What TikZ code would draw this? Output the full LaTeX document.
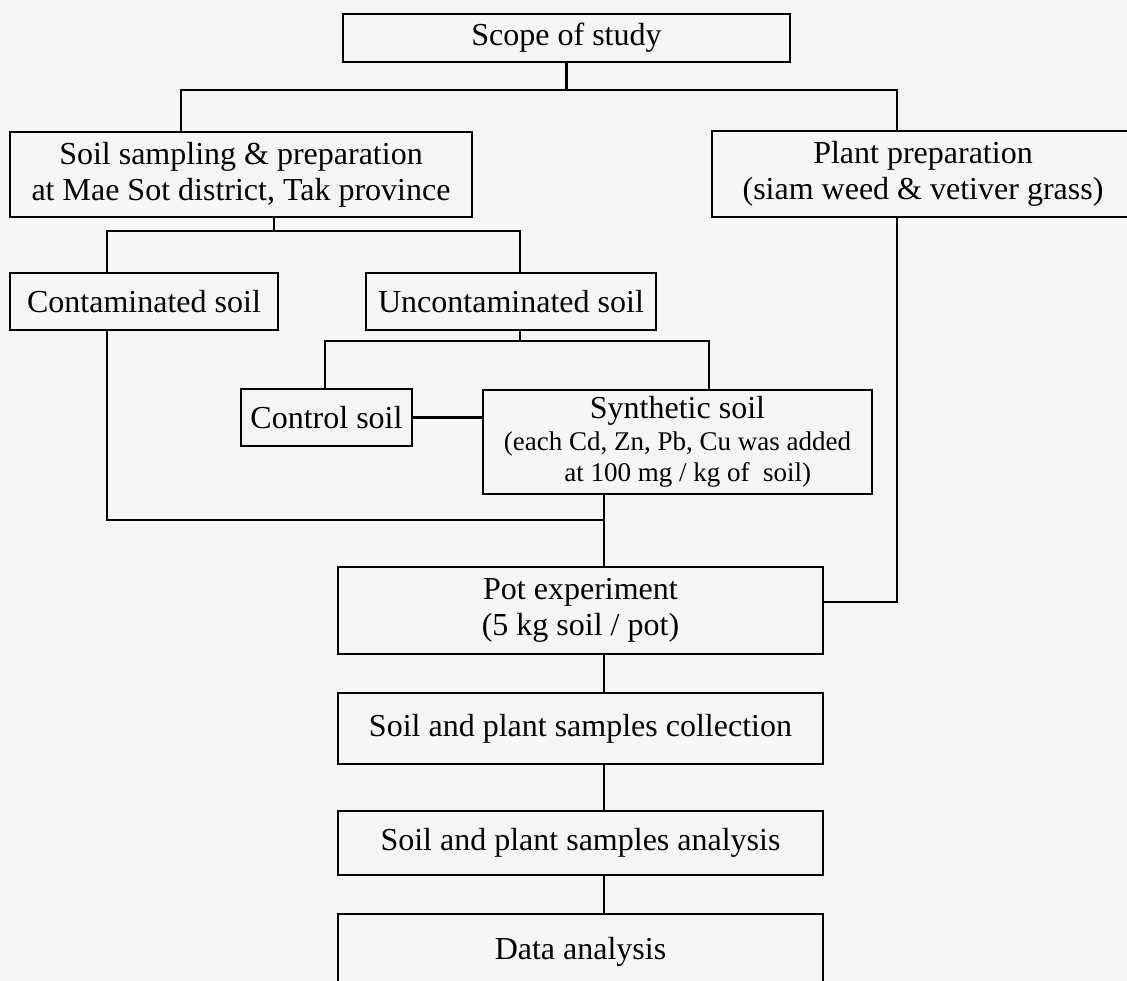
\documentclass[tikz,border=0pt]{standalone}
\usepackage{fontspec}
\setmainfont{Liberation Serif}
\definecolor{paper}{RGB}{246,246,246}

\begin{document}
\begin{tikzpicture}[x=1pt, y=-1pt, line width=2.2pt,
  box/.style={draw, rectangle, inner sep=0pt, align=center, font=\fontsize{32}{36}\selectfont}]
  \clip (0,0) rectangle (1127,981);
  \fill[paper] (0,0) rectangle (1127,981);
  \node[box, minimum width=447, minimum height=48] (scope) at (566.5,38) {Scope of study};
  \node[box, minimum width=462, minimum height=85] (soil) at (241,174.5) {Soil sampling \& preparation\\at Mae Sot district, Tak province};
  \node[box, minimum width=422, minimum height=86] (plant) at (923,174) {Plant preparation\\(siam weed \& vetiver grass)};
  \node[box, minimum width=268, minimum height=57] (contam) at (144,301.5) {Contaminated soil};
  \node[box, minimum width=290, minimum height=57] (uncont) at (511,301.5) {Uncontaminated soil};
  \node[box, minimum width=171, minimum height=57] (control) at (326.5,417.5) {Control soil};
  \node[box, minimum width=389, minimum height=104, font=\fontsize{27}{31}\selectfont] (synth) at (677.5,442) {{\fontsize{32}{36}\selectfont Synthetic soil}\\[1pt](each Cd, Zn, Pb, Cu was added\\~~~at 100 mg / kg of~~soil)};
  \node[box, minimum width=485, minimum height=87] (pot) at (580.5,610.5) {Pot experiment\\(5 kg soil / pot)};
  \node[box, minimum width=485, minimum height=71] (collect) at (580.5,728.5) {Soil and plant samples collection};
  \node[box, minimum width=485, minimum height=64] (analysis) at (580.5,843) {Soil and plant samples analysis};
  \node[box, minimum width=485, minimum height=76] (data) at (580.5,952) {Data analysis};
  \coordinate (b1) at (566.5,90);
  \coordinate (b2) at (274,231);
  \coordinate (b3) at (520,341);
  \coordinate (b4) at (604,520);
  \draw (scope) -- (b1);
  \draw (b1) -| ([xshift=-60pt]soil.north);
  \draw (b1) -| ([xshift=-26pt]plant.north);
  \draw ([xshift=33pt]soil.south) -- (b2);
  \draw (b2) -| ([xshift=-37pt]contam.north);
  \draw (b2) -| ([xshift=9pt]uncont.north);
  \draw ([xshift=9pt]uncont.south) -- (b3);
  \draw (b3) -| ([xshift=-1.5pt]control.north);
  \draw (b3) -| ([xshift=31.5pt]synth.north);
  \draw (control.east) -- (control.east -| synth.west);
  \draw ([xshift=-37pt]contam.south) |- (b4);
  \draw ([xshift=-73.5pt]synth.south) -- (b4);
  \draw (b4) -- ([xshift=23.5pt]pot.north);
  \draw ([xshift=-26pt]plant.south) |- ([yshift=8.5pt]pot.east);
  \draw ([xshift=23.5pt]pot.south) -- ([xshift=23.5pt]collect.north);
  \draw ([xshift=23.5pt]collect.south) -- ([xshift=23.5pt]analysis.north);
  \draw ([xshift=23.5pt]analysis.south) -- ([xshift=23.5pt]data.north);
\end{tikzpicture}
\end{document}
